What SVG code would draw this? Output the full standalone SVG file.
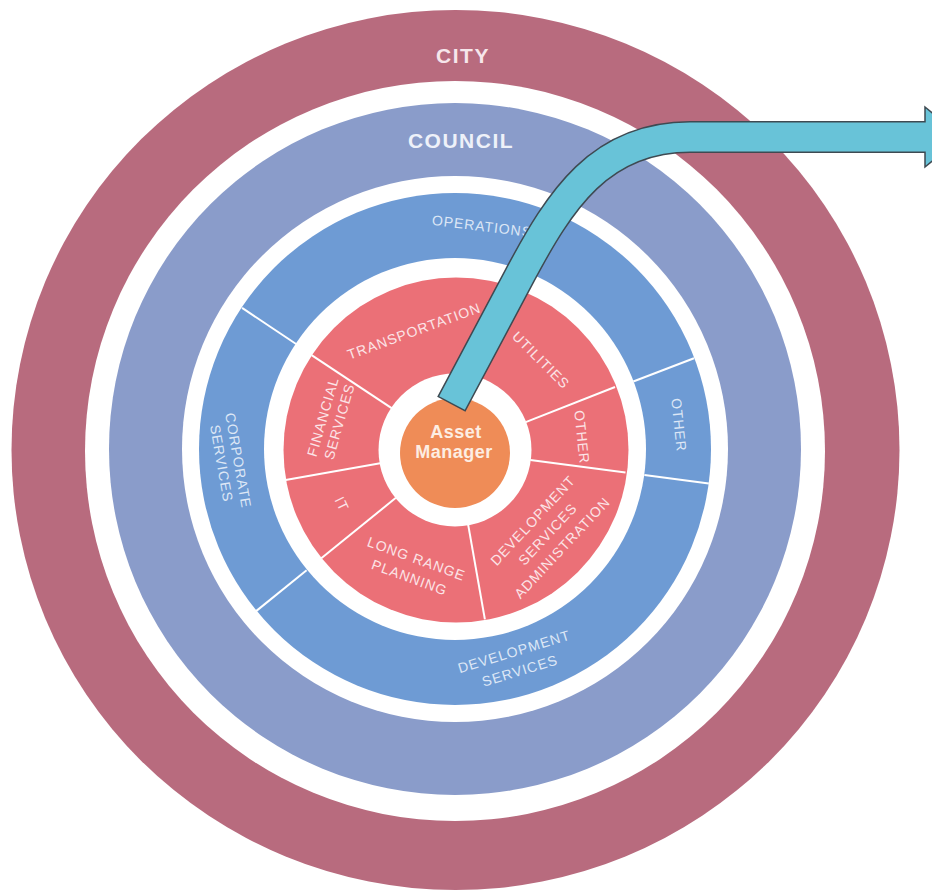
<svg xmlns="http://www.w3.org/2000/svg" width="932" height="893" viewBox="0 0 932 893">
<defs>
<style>
.lbl{font-family:"Liberation Sans",Arial,sans-serif;font-size:14px;letter-spacing:1px;text-anchor:middle}
.r{fill:#FCE4E7}
.b{fill:#DDE7F6}
.sep{stroke:#ffffff;stroke-width:2;fill:none}
.big{font-family:"Liberation Sans",Arial,sans-serif;font-weight:bold;font-size:21px;letter-spacing:1.5px;text-anchor:middle}
.am{font-family:"Liberation Sans",Arial,sans-serif;font-weight:bold;font-size:18px;letter-spacing:0.5px;text-anchor:middle;fill:#FDEEE3}
</style>
</defs>
<rect width="932" height="893" fill="#ffffff"/>
<g id="city">
<ellipse cx="455.5" cy="450" rx="444" ry="440" fill="#B86B7E"/>
<circle cx="455" cy="451" r="370" fill="#ffffff"/>
<text class="big" x="463" y="63" fill="#F6E6EB">CITY</text>
</g>
<g id="council">
<circle cx="455" cy="449" r="346" fill="#8A9CCA"/>
<circle cx="455" cy="449" r="273" fill="#ffffff"/>
<text class="big" x="461" y="148" fill="#EEF1F9">COUNCIL</text>
</g>
<g id="operations-ring">
<circle cx="455" cy="449" r="256" fill="#6E9BD4"/>
<circle cx="455" cy="449" r="191" fill="#ffffff"/>
<line class="sep" x1="296.1" y1="344" x2="242.1" y2="307.9"/>
<line class="sep" x1="633.3" y1="381.5" x2="694" y2="358.3"/>
<line class="sep" x1="644.4" y1="474.9" x2="708.8" y2="483.4"/>
<line class="sep" x1="306.6" y1="570.2" x2="256.1" y2="611.1"/>
</g>
<g id="operations"><text class="lbl b" transform="translate(482 226) rotate(7)" y="5">OPERATIONS</text></g>
<g id="other-ops"><text class="lbl b" transform="translate(679 425) rotate(84)" y="5">OTHER</text></g>
<g id="development-services"><text class="lbl b" transform="translate(517 661) rotate(-17)"><tspan x="0" y="-5">DEVELOPMENT</tspan><tspan x="0" y="15">SERVICES</tspan></text></g>
<g id="corporate-services"><text class="lbl b" transform="translate(230 462) rotate(80)"><tspan x="0" y="-3.5">CORPORATE</tspan><tspan x="0" y="13.5">SERVICES</tspan></text></g>
<g id="department-ring">
<circle cx="456" cy="450" r="172.5" fill="#EB7077"/>
<circle cx="455" cy="450" r="76.5" fill="#ffffff"/>
<line class="sep" x1="391.6" y1="408.1" x2="311.6" y2="355.1"/>
<line class="sep" x1="380.2" y1="463.2" x2="285.6" y2="479.9"/>
<line class="sep" x1="395.9" y1="497.8" x2="321.3" y2="558.2"/>
<line class="sep" x1="468.2" y1="524.8" x2="484.9" y2="619.4"/>
<line class="sep" x1="530.3" y1="459.9" x2="625.5" y2="472.4"/>
<line class="sep" x1="525.7" y1="422.1" x2="615" y2="387"/>
</g>
<g id="transportation"><text class="lbl r" transform="translate(414 331) rotate(-20)" y="5">TRANSPORTATION</text></g>
<g id="utilities"><text class="lbl r" transform="translate(541 360) rotate(45)" y="5">UTILITIES</text></g>
<g id="other-dept"><text class="lbl r" transform="translate(582 437) rotate(84)" y="5">OTHER</text></g>
<g id="development-services-administration"><text class="lbl r" transform="translate(547.5 534) rotate(-47)"><tspan x="0" y="-15">DEVELOPMENT</tspan><tspan x="0" y="5">SERVICES</tspan><tspan x="0" y="25">ADMINISTRATION</tspan></text></g>
<g id="long-range-planning"><text class="lbl r" transform="translate(413 568) rotate(20)"><tspan x="0" y="-5">LONG RANGE</tspan><tspan x="0" y="15">PLANNING</tspan></text></g>
<g id="it"><text class="lbl r" transform="translate(342 504) rotate(64)" y="5">IT</text></g>
<g id="financial-services"><text class="lbl r" transform="translate(331 419) rotate(-74)"><tspan x="0" y="-3.5">FINANCIAL</tspan><tspan x="0" y="13.5">SERVICES</tspan></text></g>
<g id="asset-manager">
<circle cx="455" cy="453" r="55" fill="#EF8C57"/>
<text class="am" x="456" y="438">Asset</text>
<text class="am" x="454" y="458">Manager</text>
</g>
<g id="connectors">
<path d="M451.3,404.3 L520,275 C560,200 600,137 690,137 L926,137" fill="none" stroke="#3E4A52" stroke-width="32"/>
<polygon points="925,107 962,137 925,167" fill="#68C3D8" stroke="#3E4A52" stroke-width="1.5"/>
<path d="M452,403 L520,275 C560,200 600,137 690,137 L930,137" fill="none" stroke="#68C3D8" stroke-width="29"/>
</g>
</svg>
